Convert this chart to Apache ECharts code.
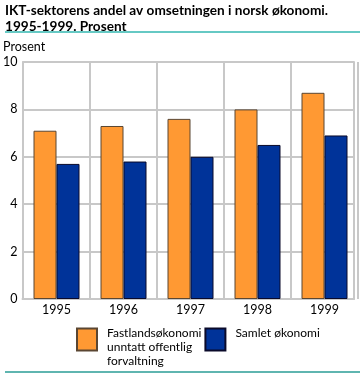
<!DOCTYPE html>
<html>
<head>
<meta charset="utf-8">
<script src="https://cdn.jsdelivr.net/npm/echarts@6/dist/echarts.min.js"></script>
<style>html,body{margin:0;padding:0;background:#fff}#c{width:360px;height:374px}</style>
</head>
<body>
<div id="c"></div>
<script>
const categories = ['1995', '1996', '1997', '1998', '1999'];
const fastland = [7.1, 7.3, 7.6, 8.0, 8.7];
const samlet = [5.7, 5.8, 6.0, 6.5, 6.9];
const yTicks = [0, 2, 4, 6, 8, 10];
const seriesNames = ['Fastlandsøkonomi\nunntatt offentlig\nforvaltning', 'Samlet økonomi'];

const FONT = 'Lato';
const grayLine = '#c8c8c8';
const chart = echarts.init(document.getElementById('c'), null, {renderer: 'canvas'});
chart.setOption({
  animation: false,
  backgroundColor: '#fff',
  title: {
    text: 'IKT-sektorens andel av omsetningen i norsk økonomi.\n1995-1999. Prosent',
    left: 5, top: 3, padding: 0,
    textStyle: {fontFamily: FONT, fontSize: 13.6, fontWeight: 'bold', color: '#000', lineHeight: 16}
  },
  graphic: [
    {type: 'line', shape: {x1: 5, y1: 32, x2: 360, y2: 32}, style: {stroke: '#66c9c4', lineWidth: 2}},
    {type: 'line', shape: {x1: 5, y1: 372, x2: 360, y2: 372}, style: {stroke: '#2a9d96', lineWidth: 1.5}},
    {type: 'text', left: 3, top: 40, style: {text: 'Prosent', font: '12.5px Lato', fill: '#000'}}
  ],
  grid: [
    {left: 18, top: 62, width: 336, height: 237},
    {left: 23, top: 62, width: 335, height: 237}
  ],
  xAxis: [
    {type: 'value', gridIndex: 0, min: 0, max: 1, axisLine: {show: true, onZero: false, lineStyle: {color: grayLine, width: 2}},
      axisTick: {show: false}, axisLabel: {show: false}, splitLine: {show: false}},
    {type: 'category', gridIndex: 1, data: categories, axisLine: {show: false}, axisTick: {show: false},
      axisLabel: {fontFamily: FONT, fontSize: 12.5, color: '#000', margin: 4},
      splitLine: {show: true, interval: function (i) { return i >= 1 && i <= 4; }, lineStyle: {color: grayLine, width: 2}}}
  ],
  yAxis: [
    {type: 'value', gridIndex: 0, min: yTicks[0], max: yTicks[yTicks.length - 1], interval: 2,
      axisLine: {show: true, lineStyle: {color: grayLine, width: 2}}, axisTick: {show: false},
      axisLabel: {fontFamily: FONT, fontSize: 12.5, color: '#000', margin: 5},
      splitLine: {show: true, lineStyle: {color: grayLine, width: 2}}},
    {type: 'value', gridIndex: 0, position: 'right', min: 0, max: 10,
      axisLine: {show: true, lineStyle: {color: grayLine, width: 2}}, axisTick: {show: false},
      axisLabel: {show: false}, splitLine: {show: false}},
    {type: 'value', gridIndex: 1, min: 0, max: 10, show: false}
  ],
  legend: {
    left: 76, top: 318, padding: 0, itemWidth: 20, itemHeight: 22, itemGap: 3, icon: 'rect',
    formatter: function (name) {
      const lines = name.split('\n').map(function (l) { return '{t|' + l + '}'; });
      if (name === seriesNames[0]) return '{s| }\n' + lines.join('\n');
      return lines.join('\n') + '\n{s2| }';
    },
    textStyle: {fontFamily: FONT, fontSize: 12, color: '#000',
      rich: {
        t: {fontFamily: FONT, fontSize: 12, color: '#000', lineHeight: 14, padding: [0, 0, 0, 5]},
        s: {fontSize: 1, lineHeight: 16},
        s2: {fontSize: 1, lineHeight: 12}
      }}
  },
  series: [
    {name: seriesNames[0], type: 'bar', xAxisIndex: 1, yAxisIndex: 2, data: fastland, barWidth: 23, barGap: '0%',
      itemStyle: {color: '#ff9933', borderColor: '#5a4632', borderWidth: 1}},
    {name: seriesNames[1], type: 'bar', xAxisIndex: 1, yAxisIndex: 2, data: samlet, barWidth: 23, barGap: '0%',
      itemStyle: {color: '#003399', borderColor: '#0a0a2a', borderWidth: 1}}
  ]
});
</script>
</body>
</html>
